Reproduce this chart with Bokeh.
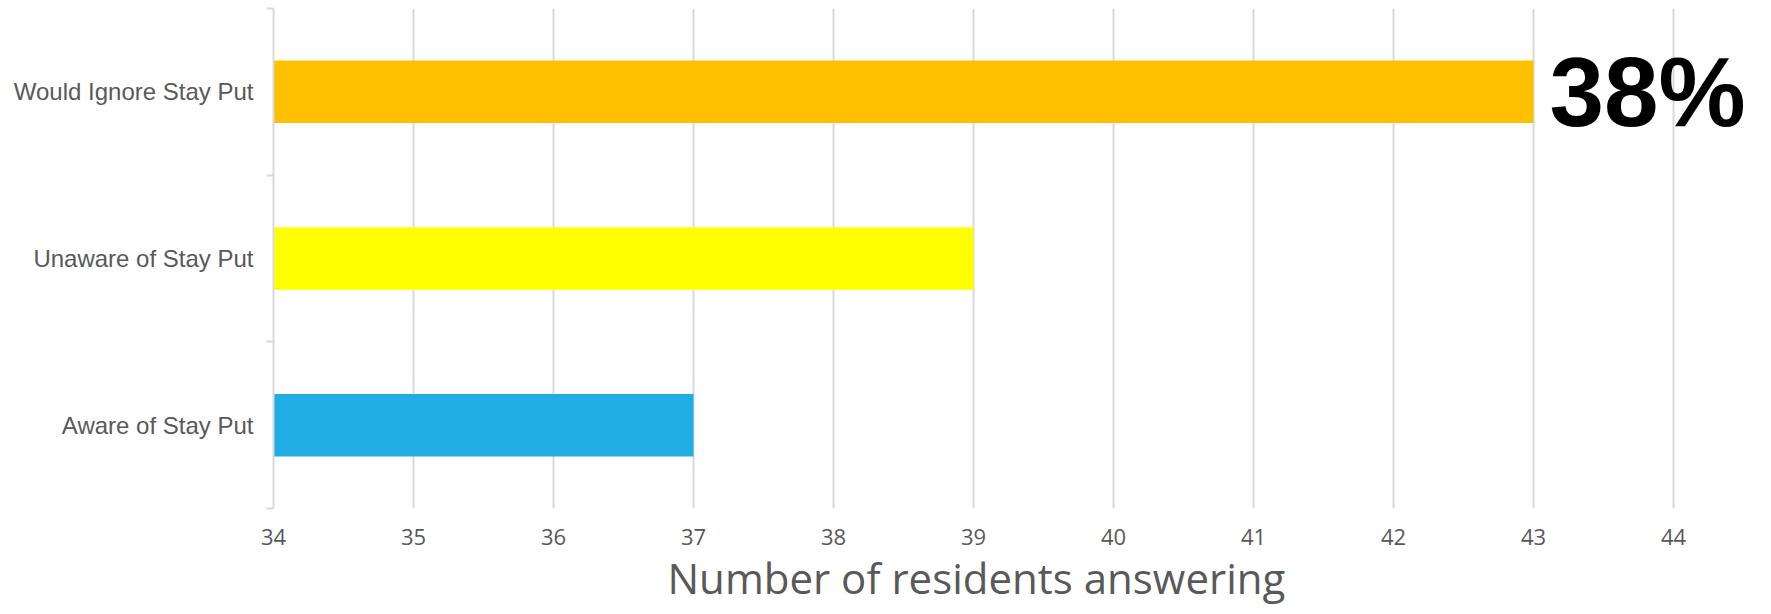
from bokeh.plotting import figure
from bokeh.models import (Range1d, LinearAxis, FixedTicker, ColumnDataSource, Label, Title)
from bokeh.embed import file_html
from bokeh.resources import INLINE

# ---- data ----
categories = ["Aware of Stay Put", "Unaware of Stay Put", "Would Ignore Stay Put"]
values = [37, 39, 43]
bar_colors = ["#1FADE3", "#FFFF00", "#FFC000"]
x_ticks = [34, 35, 36, 37, 38, 39, 40, 41, 42, 43, 44]
x_title = "Number of residents answering"
callout_text = "38%"
callout_category = "Would Ignore Stay Put"
bar_base = 34

n = len(categories)
centers = [i + 0.5 for i in range(n)]
src = ColumnDataSource(dict(y=centers, val=values, color=bar_colors,
                            base=[bar_base] * n))

# frame runs past the last tick so the callout is not clipped
x_end = x_ticks[-1] + 0.7

p = figure(width=1771, height=614, output_backend="svg", toolbar_location=None,
           y_range=Range1d(0, n),
           x_range=Range1d(x_ticks[0], x_end),
           x_axis_location=None, y_axis_location=None,
           min_border_left=273, min_border_right=0,
           min_border_top=8, min_border_bottom=106)
p.outline_line_color = None
p.background_fill_color = "white"
p.border_fill_color = "white"

# vertical gridlines
p.xgrid.ticker = FixedTicker(ticks=x_ticks)
p.xgrid.grid_line_color = "#D9D9D9"
p.xgrid.grid_line_width = 2
p.ygrid.grid_line_color = None

p.hbar(y="y", left="base", right="val", height=0.375, color="color",
       line_color=None, source=src)

# left: boundary tick axis (innermost)
bounds = list(range(n + 1))
tick_axis = LinearAxis(ticker=FixedTicker(ticks=bounds),
                       major_label_overrides={i: "" for i in bounds},
                       major_label_standoff=0, major_label_text_font_size="0px",
                       axis_line_color="#D9D9D9", axis_line_width=2,
                       major_tick_line_color="#D9D9D9", major_tick_line_width=2,
                       major_tick_in=0, major_tick_out=7,
                       minor_tick_line_color=None)
p.add_layout(tick_axis, "left")

cat_axis = LinearAxis(ticker=FixedTicker(ticks=centers),
                      major_label_overrides={c: name for c, name in zip(centers, categories)},
                      axis_line_color=None, major_tick_line_color=None,
                      minor_tick_line_color=None, major_label_standoff=7,
                      major_label_text_font="Liberation Sans",
                      major_label_text_font_size="24px",
                      major_label_text_color="#595959")
p.add_layout(cat_axis, "left")

x_axis = LinearAxis(ticker=FixedTicker(ticks=x_ticks),
                    bounds=(x_ticks[0], x_ticks[-1]),
                    axis_line_color=None, major_tick_line_color=None,
                    minor_tick_line_color=None,
                    major_label_standoff=14,
                    major_label_text_font="Open Sans",
                    major_label_text_font_size="22px",
                    major_label_text_color="#595959")
p.add_layout(x_axis, "below")

# axis title, centred under the tick range (not the wider frame)
x_title_obj = Title(text=x_title, align="left", offset=394,
                    vertical_align="top", standoff=3,
                    text_font="Open Sans", text_font_style="normal",
                    text_font_size="42px", text_color="#595959")
p.add_layout(x_title_obj, "below")

ci = categories.index(callout_category)
callout = Label(x=values[ci], y=centers[ci],
                text=callout_text, x_offset=16, y_offset=0,
                text_baseline="alphabetic", text_align="left",
                text_font="Liberation Sans", text_font_style="bold",
                text_font_size="98px", text_color="black")
p.add_layout(callout)

open("out.html", "w").write(file_html(p, INLINE))
